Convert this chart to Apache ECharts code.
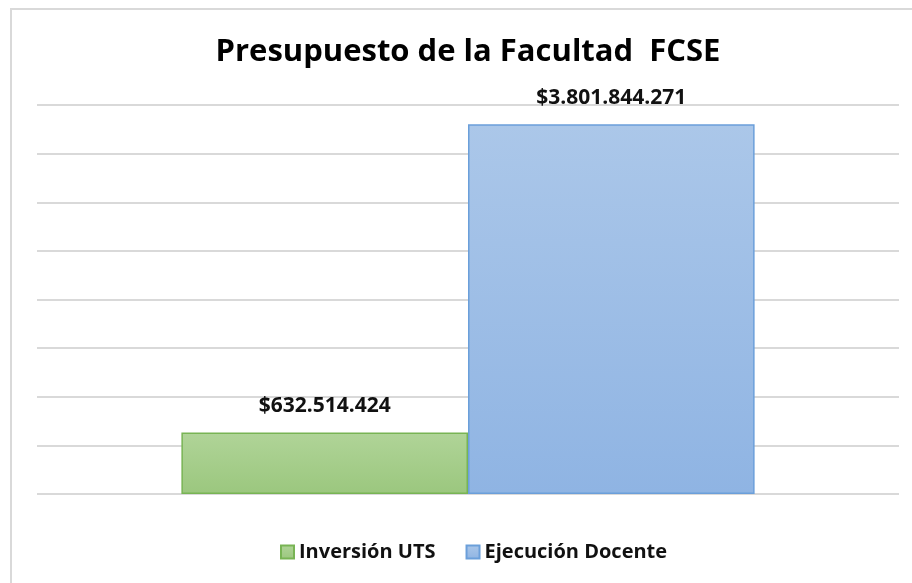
<!DOCTYPE html>
<html>
<head>
<meta charset="utf-8">
<script src="https://cdn.jsdelivr.net/npm/echarts@6/dist/echarts.min.js"></script>
<style>
	html, body { margin: 0; padding: 0; background: #fff; }
	#frame { position: absolute; left: 10px; top: 8px; width: 910px; height: 590px; border-left: 2px solid #d9d9d9; border-top: 2px solid #d9d9d9; box-sizing: border-box; }
	#chart { position: absolute; left: 0; top: 0; width: 912px; height: 583px; }
</style>
</head>
<body>
<div id="frame"></div>
<div id="chart"></div>
<script>
var categories = ['Presupuesto'];
var seriesNames = ['Inversión UTS', 'Ejecución Docente'];
var inversionUts = [632514424];
var ejecucionDocente = [3801844271];
var axisMax = 4000000000;
var axisStep = 500000000;

var FONT = '"Open Sans", sans-serif';

function money(v) {
	var s = String(Math.round(v));
	return '$' + s.replace(/\B(?=(\d{3})+(?!\d))/g, '.');
}

function grad(top, bottom) {
	return new echarts.graphic.LinearGradient(0, 0, 0, 1, [
		{ offset: 0, color: top },
		{ offset: 1, color: bottom }
	]);
}

var labelStyle = {
	show: true, position: 'top', distance: 16,
	formatter: function(p) { return money(p.value); },
	fontFamily: FONT, fontWeight: 'bold', fontSize: 21, color: '#111'
};

var chart = echarts.init(document.getElementById('chart'), null, { renderer: 'canvas' });
chart.setOption({
	animation: false,
	title: {
		text: 'Presupuesto de la Facultad  FCSE',
		left: 463, top: 32, textAlign: 'center',
		textStyle: { fontFamily: FONT, fontWeight: 'bold', fontSize: 31, color: '#000' }
	},
	legend: {
		data: seriesNames,
		left: 275, top: 537, icon: 'rect',
		itemWidth: 13, itemHeight: 13, itemGap: 30,
		textStyle: { fontFamily: FONT, fontWeight: 'bold', fontSize: 20, color: '#111' }
	},
	grid: { left: 37, right: 13, top: 105, bottom: 89, containLabel: false },
	xAxis: {
		type: 'category', data: categories,
		axisLine: { show: false }, axisTick: { show: false }, axisLabel: { show: false }
	},
	yAxis: {
		type: 'value', min: 0, max: axisMax, interval: axisStep,
		axisLine: { show: false }, axisTick: { show: false }, axisLabel: { show: false },
		splitLine: { lineStyle: { color: '#d9d9d9', width: 2 } }
	},
	series: [{
		name: seriesNames[0], type: 'bar', data: inversionUts,
		barGap: '0%', barCategoryGap: '33.5%',
		itemStyle: { color: grad('#b0d498', '#9bc77e'), borderColor: '#78b454', borderWidth: 1.5 },
		label: labelStyle
	}, {
		name: seriesNames[1], type: 'bar', data: ejecucionDocente,
		itemStyle: { color: grad('#abc7e9', '#8fb4e3'), borderColor: '#6b9fda', borderWidth: 1.5 },
		label: labelStyle
	}]
});
</script>
</body>
</html>
